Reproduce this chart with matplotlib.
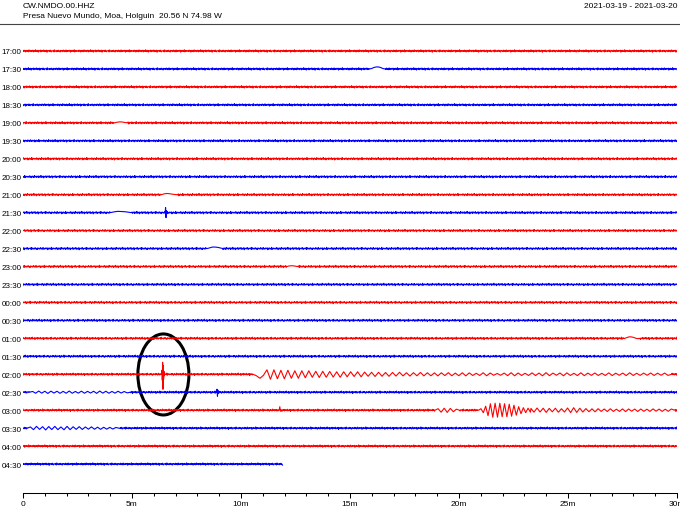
import numpy as np
import matplotlib
matplotlib.use("Agg")
import matplotlib.pyplot as plt
from matplotlib.patches import Ellipse
from matplotlib.lines import Line2D

plt.rcParams['font.family'] = ['Liberation Sans', 'DejaVu Sans']

# texts
station = "CW.NMDO.00.HHZ"
site = "Presa Nuevo Mundo, Moa, Holguin  20.56 N 74.98 W"
dates = "2021-03-19 - 2021-03-20"

# one row every 30 minutes
row_labels = ["17:00", "17:30", "18:00", "18:30", "19:00", "19:30", "20:00", "20:30",
              "21:00", "21:30", "22:00", "22:30", "23:00", "23:30", "00:00", "00:30",
              "01:00", "01:30", "02:00", "02:30", "03:00", "03:30", "04:00", "04:30"]
row_colors = ["red", "blue"] * 12
last_row_end = 11.9  # minutes recorded in the 04:30 row

x_ticks = [0, 5, 10, 15, 20, 25, 30]
x_labels = ["0", "5m", "10m", "15m", "20m", "25m", "30m"]

noise_px = [0.3, -0.6, 0.9, -0.2, 0.5, -1.0, 0.1, 0.7, -0.4, 0.2,
            -0.8, 1.1, -0.3, 0.0, 0.6, -0.7, 0.4, -0.1, 0.8, -0.9,
            0.2, 0.5, -0.5, 1.2, -0.6, 0.1, -0.3, 0.7, -1.1, 0.4,
            0.0, -0.2, 0.9, -0.8, 0.3, 0.6, -0.4, -0.1, 1.0, -0.7,
            0.2, -0.5, 0.4, 0.8, -1.2, 0.5, -0.2, 0.1, 0.6, -0.6,
            0.9, -0.3, -0.8, 0.4, 0.2, -0.1, 0.7, -0.9, 1.1, -0.4,
            0.0, 0.3, -0.7, 0.5, -0.2, 0.8, -0.5, 0.1, -1.0, 0.6,
            0.4, -0.3, 0.2, -0.6, 0.9, -0.1, 0.3, -0.8, 0.5, 1.0,
            -0.7, 0.2, -0.4, 0.6, -0.2, 0.0, 0.8, -1.1, 0.3, -0.5,
            0.7, -0.3, 0.1, -0.6, 1.2, -0.9, 0.4, -0.2, 0.5, -0.4, 0.2]
noise_step = 0.025  # minutes between background samples

# events: samples in pixels, first sample time and sample step in minutes
bump_1730 = [0, 0.5, 1.5, 2, 2, 1.5, 0.5, 0]
bump_1900 = [0, 0.6, 1, 0.8, 0.3, 0]
bump_2100 = [0, 0.8, 1.2, 1, 0.6, 0.2, 0]
bump_2130 = [0, 0.5, 1, 1.3, 1.2, 1, 0.8, 0.4, 0]
spike_2130 = [0, 5, -5, 2, -1, 0]
bump_2230 = [0, 0.8, 1.5, 1.5, 1.2, 0.6, 0]
bump_2300 = [0, 0.6, 0.8, 0.5, 0]
bump_0100 = [0, 0.8, 1.5, 1.5, 1, 0.2, -0.3, 0]
spike_0200 = [0, 4, -6, 12, -15, 9, -5, 3, -1.5, 0]
wave_0200 = [0, -1.5, -4, -1, 4.5, -5, 4.5, -4.5, 4, -4.5, 4, -4, 3.5, -4, 3.5, -3.5, 3.5, -3, 3, -3.2,
             3, -3, 2.8, -2.8, 2.5, -3, 2.5, -2.5, 2.5, -2.2, 2.5, -2.5, 2.2, -2, 2, -2.2, 2, -2, 1.8, -2,
             1.8, -1.8, 2, -1.6, 1.5, -1.8, 1.6, -1.5, 1.8, -1.6, 1.5, -1.5, 1.4, -1.6, 1.5, -1.3, 1.6, -1.5, 1.2, -1.4,
             1.5, -1.6, 1.4, -1.2, 1.0, -1.2, 1.5, -1.5, 1.3, -1.0, 0.8, -1.0, 1.2, -1.4, 1.6, -1.5, 1.3, -1.2, 1.0, -1.2,
             1.4, -1.3, 1.2, -1.5, 1.6, -1.4, 1.2, -1.0, 1.3, -1.5, 1.4, -1.2, 1.0, -1.3, 1.5, -1.4, 1.2, -1.1, 1.3, -1.2,
             1.0, -1.2, 1.4, -1.3, 1.1, -1.0, 1.2, -1.3, 1.5, -1.2, 1.0, -1.1, 1.2, -1.0, 1.3, -1.2, 1.1, -1.0, 1.2, -1.1, 0]
wave_0230 = [0, 0.8, -1.0, 1.2, -0.9, 1.0, -1.2, 1.1, -0.8, 1.0, -1.1, 0.9, -1.0, 1.2, -1.0, 0.8, -0.9,
             1.1, -1.0, 0.9, -0.8, 1.0, -1.1, 1.2, -0.9, 1.0, -1.0, 0.8, -0.9, 1.0, -0.8, 0.7, -0.6, 0]
spike_0230 = [0, 3, -4, 2, -1, 0]
step_0300 = [0, 3.5, -1, 0.5, 0]
wiggle_0300 = [0, 1.5, -2, 2, -2.2, 1.8, -1.5, 1, 0]
packet_0300 = [0, 1.5, -2.5, 4, -5.5, 6.5, -7, 7, -7, 7, -6.5, 6.5, -6.5, 6, -6, 5, -5, 3.5, -3.5, 2.5, -2.5, 2, -2]
tail_0300 = [1.8, -2, 2.2, -1.8, 2, -2.2, 1.8, -1.6, 2, -2, 1.5, -1.8, 2.2, -2.4, 2.5, -2.2, 2, -1.8, 1.6, -1.5,
             1.4, -1.6, 1.5, -1.2, 1.2, -1.3, 1.4, -1.2, 1.0, -1.2, 1.3, -1.4, 1.2, -1.0, 1.1, -1.3, 1.2, -1.1, 1.0, -1.2,
             1.3, -1.0, 1.1, -1.2, 1.0, -1.1, 1.2, 0]
wave_0330 = [0, 1.2, -1.5, 1.8, -1.2, 1.5, -1.8, 1.6, -1.4, 1.8, -1.5, 1.2, -1.6, 1.8, -1.5, 1.4,
             -1.2, 1.5, -1.3, 1.2, -1.0, 1.3, -1.1, 1.0, -1.2, 0.9, -1.0, 0.8, -0.9, 0.7, 0]

# (row, first sample minute, step in minutes, samples)
events = [
    (1, 15.9, 0.1, bump_1730),
    (4, 4.2, 0.12, bump_1900),
    (8, 6.35, 0.12, bump_2100),
    (9, 4.0, 0.12, bump_2130),
    (9, 6.52, 0.02, spike_2130),
    (11, 8.45, 0.12, bump_2230),
    (12, 12.1, 0.12, bump_2300),
    (16, 27.6, 0.1, bump_0100),
    (18, 6.36, 0.015, spike_0200),
    (18, 10.55, 0.16, wave_0200),
    (19, 0.3, 0.14, wave_0230),
    (19, 8.88, 0.02, spike_0230),
    (20, 11.75, 0.03, step_0300),
    (20, 18.9, 0.14, wiggle_0300),
    (20, 20.9, 0.108, packet_0300),
    (20, 23.3, 0.14, tail_0300),
    (21, 0.2, 0.14, wave_0330),
]

px_per_row = 17.96

fig = plt.figure(figsize=(6.8, 5.1), dpi=100)
ax = fig.add_axes([23 / 680, 1 - 494 / 510, 654 / 680, 469 / 510])

for row, label in enumerate(row_labels):
    end = 30.0 if row < len(row_labels) - 1 else last_row_end
    t = np.arange(0, end + 1e-9, noise_step)
    idx = (np.arange(len(t)) + row * 13) % len(noise_px)
    y = np.array(noise_px)[idx]
    keep = np.ones(len(t), dtype=bool)
    ts, ys = [], []
    for r, start, step, samples in events:
        if r != row:
            continue
        te = start + step * np.arange(len(samples))
        keep &= ~((t >= te[0]) & (t <= te[-1]))
        ts.append(te)
        ys.append(np.array(samples, dtype=float))
    tt = np.concatenate([t[keep]] + ts)
    yy = np.concatenate([y[keep]] + ys)
    order = np.argsort(tt, kind="stable")
    ax.plot(tt[order], row - yy[order] / px_per_row, color=row_colors[row], lw=0.8)

# circle around the first arrival
ax.add_patch(Ellipse((6.44, 18.01), 2.34, 4.51, fill=False, edgecolor="black", lw=2.2))

ax.set_xlim(0, 30)
ax.set_ylim(24.61, -1.503)
ax.set_xticks(x_ticks)
ax.set_xticklabels(x_labels)
ax.set_xticks(np.arange(0, 31, 1), minor=True)
ax.set_yticks(range(len(row_labels)))
ax.set_yticklabels(row_labels)
ax.tick_params(axis="x", which="major", direction="out", length=3.6, width=0.75, pad=1.5, labelsize=6)
ax.tick_params(axis="x", which="minor", direction="out", length=2.0, width=0.75)
ax.tick_params(axis="y", length=0, pad=1.2, labelsize=5.8)
for s in ["top", "left", "right"]:
    ax.spines[s].set_visible(False)
ax.spines["bottom"].set_linewidth(0.75)

fig.text(23 / 680, 1 - 6 / 510, station, fontsize=6, va="center", ha="left")
fig.text(23 / 680, 1 - 17 / 510, site, fontsize=6, va="center", ha="left")
fig.text(678 / 680, 1 - 6 / 510, dates, fontsize=6, va="center", ha="right")
fig.add_artist(Line2D([0, 1], [1 - 25 / 510, 1 - 25 / 510], color="#444444", lw=0.8))

plt.savefig("out.png", dpi=100)
